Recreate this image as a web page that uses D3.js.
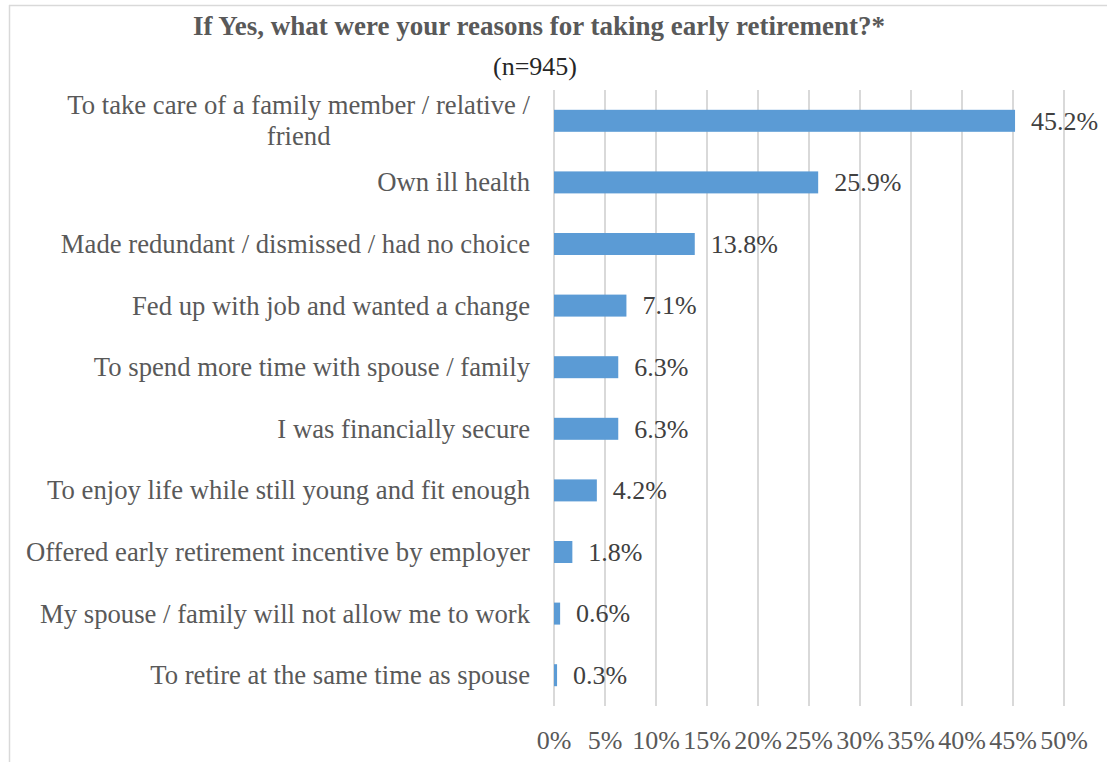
<!DOCTYPE html>
<html>
<head>
<meta charset="utf-8">
<script src="https://cdn.jsdelivr.net/npm/d3@7/dist/d3.min.js"></script>
<style>
  html, body { margin: 0; padding: 0; background: #fff; }
  svg { display: block; }
  text { font-family: "Liberation Serif", "Times New Roman", serif; }
</style>
</head>
<body>
<svg id="chart" width="1107" height="762"></svg>
<script>
// Reasons for taking early retirement (share of respondents, n=945)
const categories = [
  "To take care of a family member / relative / friend",
  "Own ill health",
  "Made redundant / dismissed / had no choice",
  "Fed up with job and wanted a change",
  "To spend more time with spouse / family",
  "I was financially secure",
  "To enjoy life while still young and fit enough",
  "Offered early retirement incentive by employer",
  "My spouse / family will not allow me to work",
  "To retire at the same time as spouse"
];
const values = [0.452, 0.259, 0.138, 0.071, 0.063, 0.063, 0.042, 0.018, 0.006, 0.003];
const tickValues = [0, 0.05, 0.10, 0.15, 0.20, 0.25, 0.30, 0.35, 0.40, 0.45, 0.50];
const titleText = "If Yes, what were your reasons for taking early retirement?*";
const subtitleText = "(n=945)";

// Labels that need to wrap onto two lines
const wrapped = {
  "To take care of a family member / relative / friend":
    ["To take care of a family member / relative /", "friend"]
};

const svg = d3.select("#chart");
const fontSize = 26;
const catFontSize = 26.7;

// Chart frame (top and left edges visible)
svg.append("line")
  .attr("x1", 9).attr("x2", 1107).attr("y1", 5.5).attr("y2", 5.5)
  .attr("stroke", "#d9d9d9").attr("stroke-width", 1.5);
svg.append("line")
  .attr("x1", 9.5).attr("x2", 9.5).attr("y1", 5).attr("y2", 762)
  .attr("stroke", "#d9d9d9").attr("stroke-width", 1.5);

// Titles
svg.append("text")
  .attr("x", 539).attr("y", 35)
  .attr("text-anchor", "middle")
  .attr("font-weight", "bold")
  .attr("font-size", 27)
  .attr("fill", "#595959")
  .text(titleText);
svg.append("text")
  .attr("x", 535).attr("y", 75)
  .attr("text-anchor", "middle")
  .attr("font-size", fontSize)
  .attr("fill", "#262626")
  .text(subtitleText);

// Scales
const x = d3.scaleLinear().domain([0, 0.5]).range([554, 1064]);
const y = d3.scaleBand()
  .domain(categories)
  .range([90, 706])
  .paddingInner(0.643)
  .paddingOuter(0.3215);

// Vertical gridlines
svg.append("g")
  .selectAll("line")
  .data(tickValues)
  .join("line")
  .attr("x1", d => x(d)).attr("x2", d => x(d))
  .attr("y1", 90).attr("y2", 706)
  .attr("stroke", "#d9d9d9")
  .attr("stroke-width", 2);

// Bars
svg.append("g")
  .selectAll("rect")
  .data(categories)
  .join("rect")
  .attr("x", x(0))
  .attr("y", d => y(d))
  .attr("width", (d, i) => x(values[i]) - x(0))
  .attr("height", y.bandwidth())
  .attr("fill", "#5b9bd5");

// Value labels
svg.append("g")
  .selectAll("text")
  .data(categories)
  .join("text")
  .attr("x", (d, i) => x(values[i]) + 16)
  .attr("y", d => y(d) + y.bandwidth() / 2 + fontSize * 0.34)
  .attr("font-size", fontSize)
  .attr("fill", "#404040")
  .text((d, i) => (values[i] * 100).toFixed(1) + "%");

// Category labels (right-aligned block, wrapped lines centred within the block)
const catG = svg.append("g");
categories.forEach(c => {
  const cy = y(c) + y.bandwidth() / 2;
  const lines = wrapped[c] || [c];
  const lineH = 31;
  const t = catG.append("text")
    .attr("font-size", catFontSize)
    .attr("fill", "#595959");
  const spans = lines.map((ln, k) =>
    t.append("tspan")
      .attr("y", cy + (k - (lines.length - 1) / 2) * lineH + catFontSize * 0.34)
      .text(ln));
  const widths = spans.map(s => s.node().getComputedTextLength());
  const maxW = d3.max(widths);
  const right = 530;
  spans.forEach(s => {
    s.attr("x", right - maxW / 2).attr("text-anchor", "middle");
  });
});

// Bottom axis tick labels
svg.append("g")
  .selectAll("text")
  .data(tickValues)
  .join("text")
  .attr("x", d => x(d))
  .attr("y", 749)
  .attr("text-anchor", "middle")
  .attr("font-size", fontSize)
  .attr("fill", "#595959")
  .text(d => d3.format(".0%")(d));
</script>
</body>
</html>
